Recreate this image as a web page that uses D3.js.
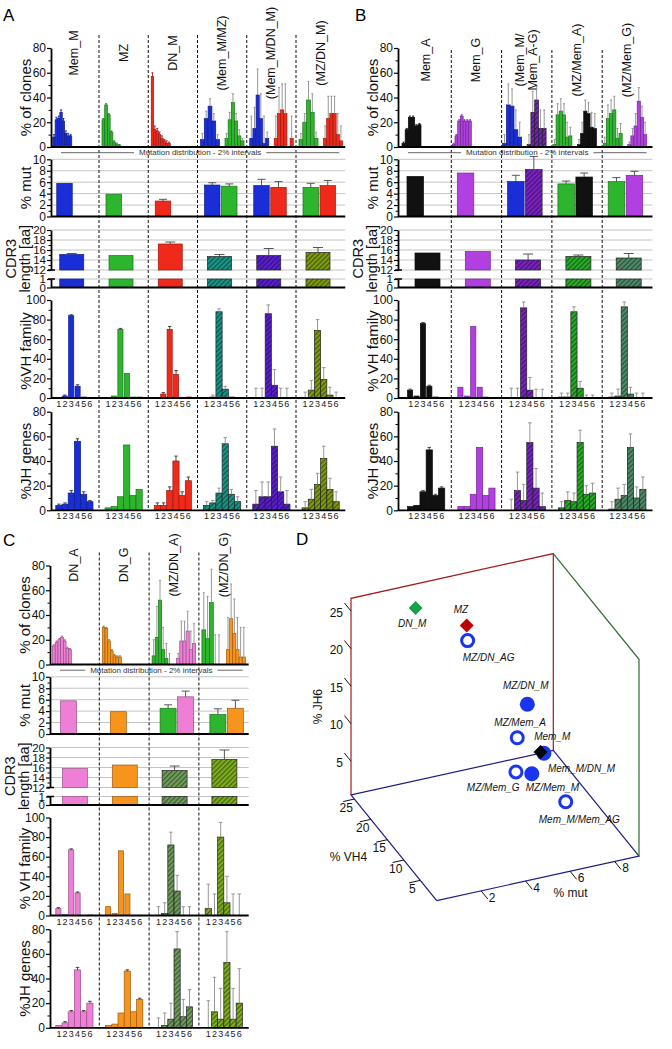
<!DOCTYPE html>
<html>
<head>
<meta charset="utf-8">
<script src="https://cdn.jsdelivr.net/npm/d3@7"></script>
<style>
body { margin: 0; background: #fff; }
svg { display: block; font-family: "Liberation Sans", Arial, sans-serif; }
</style>
</head>
<body>
<svg id="fig" width="672" height="1049"></svg>
<script>
// ---------- Panel A data ----------
var aGroups = ["Mem_M", "MZ", "DN_M", "(Mem_M/MZ)", "(Mem_M/DN_M)", "(MZ/DN_M)"];
var aPops = [["Mem_M"], ["MZ"], ["DN_M"], ["Mem_M", "MZ"], ["Mem_M", "DN_M"], ["MZ", "DN_M"]];
var aClones = [
    [[8, 22, 23, 28, 21, 11, 9, 9]],
    [[22, 34, 26, 12, 4, 2, 1]],
    [[57, 14, 13, 10, 7, 5, 3, 3]],
    [[6, 23, 33, 21, 6], [7, 22, 36, 21, 9, 5]],
    [[7, 15, 42, 23, 3, 7], [7, 27, 30, 27, 0, 7]],
    [[6, 20, 38, 28, 7], [7, 23, 27, 27, 10, 5]]
];
var aClonesErr = [
    [[10, 24, 25, 30, 23, 13, 11, 10]],
    [[23, 35, 27, 13, 5, 3, 2]],
    [[60, 17, 15, 12, 9, 6, 5, 4]],
    [[11, 29, 39, 27, 10], [11, 28, 43, 27, 14, 7]],
    [[25, 32, 63, 43, 25, 12], [25, 48, 51, 51, 0, 25]],
    [[11, 27, 53, 43, 12], [17, 41, 41, 41, 27, 17]]
];
var aMut = [[5.8], [3.9], [2.7], [5.5, 5.3], [5.4, 5.1], [5.1, 5.4]];
var aMutErr = [[5.9], [3.95], [3.0], [5.9, 5.7], [6.5, 6.1], [5.8, 6.3]];
var aCdr3 = [15.1, 14.9, 17.2, 14.7, 14.9, 15.5];
var aCdr3Err = [15.3, 15.0, 17.6, 15.1, 16.3, 16.5];
var aVH = [[0.5, 2, 84, 12, 1, 0], [0, 2, 70, 25, 1, 1], [0, 4, 70, 24, 0, 1],
    [0, 1, 88, 9, 1, 0], [0, 0, 86, 13, 0, 0], [0, 8, 69, 19, 3, 0]];
var aVHErr = [[0.5, 3, 85, 13.5, 1, 0], [0, 2.5, 71, 25.5, 1, 1], [0, 5.5, 73, 28, 0, 1.5],
    [0, 3, 91, 12, 1, 0], [10, 10, 95, 29, 10, 10], [6, 18, 80, 31, 11, 6]];
var aJH = [[4, 5, 14, 56, 13, 7], [2, 3, 11, 53, 12, 17], [4, 4, 16, 40, 12, 24],
    [4, 6, 14, 54, 13, 7], [5, 11, 11, 52, 15, 5], [2, 9, 21, 42, 17, 7]];
var aJHErr = [[5, 6, 16, 58, 15, 8], [2.5, 3.5, 11.5, 53.5, 12.5, 17.5], [6, 6, 19, 44, 15, 27],
    [7, 8, 18, 59, 17, 11], [16, 23, 23, 66, 27, 16], [7, 17, 30, 52, 26, 15]];

// ---------- Panel B data ----------
var bGroups = ["Mem_A", "Mem_G", "(Mem_M/\nMem_A-G)", "(MZ/Mem_A)", "(MZ/Mem_G)"];
var bPops = [["Mem_A"], ["Mem_G"], ["Mem_M", "Mem_A-G"], ["MZ", "Mem_A"], ["MZ", "Mem_G"]];
var bClones = [
    [[3, 14, 24, 24, 17, 18]],
    [[2, 9, 21, 25, 21, 21, 21]],
    [[3, 34, 33, 14, 8], [2, 28, 38, 15, 15]],
    [[2, 26, 29, 26, 8, 9], [2, 11, 29, 27, 16, 15]],
    [[3, 23, 27, 30, 7, 11], [2, 9, 17, 37, 24, 10]]
];
var bClonesErr = [
    [[4, 15, 25, 25, 18, 19]],
    [[3, 10, 22, 26, 22, 22, 22]],
    [[10, 51, 47, 30, 20], [10, 45, 49, 30, 30]],
    [[6, 35, 39, 35, 20, 16], [6, 20, 38, 36, 28, 27]],
    [[8, 34, 38, 41, 15, 19], [4, 15, 27, 48, 33, 20]]
];
var bMut = [[7.0], [7.6], [6.1, 8.2], [5.7, 6.9], [6.1, 7.2]];
var bMutErr = [[7.1], [7.7], [7.2, 10.5], [6.2, 7.6], [6.8, 7.9]];
var bCdr3 = [15.4, 15.7, 14.0, 14.7, 14.4];
var bCdr3Err = [15.5, 15.8, 15.2, 15.0, 15.3];
var bVH = [[8, 2, 76, 12, 1, 0.5], [11, 2, 73, 11, 1, 0.5], [0, 0, 92, 8, 0, 0],
    [1, 1, 88, 10, 0, 0], [1, 2, 93, 4, 0, 0]];
var bVHErr = [[9, 2.5, 77, 13, 1.5, 0.5], [11.5, 2.5, 73.5, 11.5, 1, 0.5], [10, 10, 98, 21, 9, 9],
    [5, 5, 93, 17, 3, 3], [5, 9, 98, 11, 5, 5]];
var bJH = [[3, 4, 15, 49, 12, 18], [3, 3, 13, 51, 12, 18], [0, 16, 8, 55, 18, 3],
    [2, 8, 7, 55, 13, 14], [1, 9, 12, 51, 10, 17]];
var bJHErr = [[3.5, 4.5, 16, 51, 13, 19], [3.5, 3.5, 13.5, 51.5, 12.5, 18.5], [9, 31, 21, 71, 34, 14],
    [7, 15, 14, 65, 20, 22], [7, 18, 21, 62, 19, 27]];

// ---------- Panel C data ----------
var cGroups = ["DN_A", "DN_G", "(MZ/DN_A)", "(MZ/DN_G)"];
var cPops = [["DN_A"], ["DN_G"], ["MZ", "DN_A"], ["MZ", "DN_G"]];
var cClones = [
    [[15, 18, 20, 22, 19, 13, 12]],
    [[30, 29, 19, 11, 7, 6, 6]],
    [[7, 22, 52, 12, 5, 0], [5, 19, 19, 27, 12, 17]],
    [[28, 21, 50, 0, 0], [12, 37, 25, 12, 6, 6]]
];
var cClonesErr = [
    [[16, 19, 21, 23, 20, 14, 13]],
    [[31, 30, 20, 12, 8, 7, 7]],
    [[20, 47, 68, 30, 17, 9], [9, 35, 35, 43, 27, 33]],
    [[58, 55, 77, 24, 24], [38, 65, 53, 38, 30, 30]]
];
var cMut = [[5.8], [3.9], [4.5, 6.5], [3.4, 4.5]];
var cMutErr = [[5.85], [3.95], [5.1, 7.5], [4.4, 5.9]];
var cCdr3 = [15.8, 16.5, 15.4, 17.6];
var cCdr3Err = [15.85, 16.6, 16.3, 19.5];
var cVH = [[7, 1, 67, 23, 0, 0.5], [9, 2, 66, 22, 0, 0], [0, 2, 72, 25, 0, 0], [7, 0, 80, 13, 0, 0]];
var cVHErr = [[8, 1.5, 68, 24, 0, 0.5], [9.5, 2.5, 66.5, 22.5, 0, 0], [9, 13, 85, 41, 9, 9], [32, 22, 95, 40, 22, 22]];
var cJH = [[2, 4, 13, 47, 13, 20], [2, 3, 12, 46, 13, 23], [0, 2, 7, 64, 9, 17], [0, 13, 7, 53, 7, 20]];
var cJHErr = [[2.5, 5, 14, 49, 14, 21.5], [2.5, 3.5, 12.5, 47, 13.5, 24], [8, 12, 20, 78, 23, 31], [22, 41, 32, 78, 32, 48]];

// ---------- Panel D data (3D scatter) ----------
var dNames = ["MZ/DN_AG", "MZ/Mem_A", "MZ/Mem_G", "Mem_M/Mem_AG", "MZ/DN_M", "Mem_M/DN_M", "MZ/Mem_M", "DN_M", "MZ", "Mem_M"];
var dKind = ["switched", "switched", "switched", "switched", "igm", "igm", "igm", "pop", "pop", "pop"];
var dMut = [4.0, 5.7, 6.1, 6.1, 5.1, 5.4, 5.3, 2.7, 3.9, 5.8];
var dVH4 = [17.6, 14.0, 17.1, 2.0, 6.9, 3.9, 6.9, 24.6, 17.2, 7.6];
var dJH6 = [23.0, 10.9, 4.4, 8.6, 19.6, 14.5, 10.2, 24.4, 25.3, 12.4];
var dMutTicks = [2, 4, 6, 8];
var dVH4Ticks = [5, 10, 15, 20, 25];
var dJH6Ticks = [5, 10, 15, 20, 25];

// ---------- styles ----------
var popColor = {
    "Mem_M": "#1a2ed8", "MZ": "#2db52d", "DN_M": "#f02a1a", "Mem_A": "#111111",
    "Mem_G": "#b23fe0", "DN_A": "#ef7fd6", "DN_G": "#f7941d"
};
var hatchColor = {
    "(Mem_M/MZ)": "#1a9688", "(Mem_M/DN_M)": "#5a1fd0", "(MZ/DN_M)": "#7e9c10",
    "Mem_A-G": "#7a22c4", "(Mem_M/\nMem_A-G)": "#7a22c4", "(MZ/Mem_A)": "#27ad27",
    "(MZ/Mem_G)": "#4e8b68", "(MZ/DN_A)": "#6f9d5a", "(MZ/DN_G)": "#7cae1f"
};
var dColor = { "DN_M": "#18a04c", "MZ": "#c00000", "Mem_M": "#000000" };

var svg = d3.select("#fig");
var defs = svg.append("defs");

function safe(k) { return k.replace(/[^A-Za-z0-9]/g, "_"); }
function darker(c, k) { return d3.color(c).darker(k).formatHex(); }

Object.keys(hatchColor).forEach(function (k) {
    var c = hatchColor[k];
    var p = defs.append("pattern").attr("id", "h-" + safe(k))
        .attr("patternUnits", "userSpaceOnUse").attr("width", 3.4).attr("height", 3.4)
        .attr("patternTransform", "rotate(45)");
    p.append("rect").attr("width", 3.4).attr("height", 3.4).attr("fill", c);
    p.append("line").attr("x1", 0.6).attr("y1", 0).attr("x2", 0.6).attr("y2", 3.4)
        .attr("stroke", darker(c, 1.8)).attr("stroke-width", 1.1);
});

function fillOf(key) {
    return hatchColor[key] ? "url(#h-" + safe(key) + ")" : popColor[key];
}
function strokeOf(key) {
    return hatchColor[key] ? "#222" : darker(popColor[key], 1.3);
}

function errBar(g, x, yTop, yErr, cap, col) {
    if (yTop - yErr < 0.8) return;
    g.append("line").attr("x1", x).attr("x2", x).attr("y1", yTop).attr("y2", yErr)
        .attr("stroke", col).attr("stroke-width", 0.9);
    g.append("line").attr("x1", x - cap / 2).attr("x2", x + cap / 2).attr("y1", yErr).attr("y2", yErr)
        .attr("stroke", col).attr("stroke-width", 0.9);
}

function bar(g, x, y, w, h, key) {
    if (h <= 0) return;
    g.append("rect").attr("x", x).attr("y", y).attr("width", w).attr("height", h)
        .attr("fill", fillOf(key)).attr("stroke", strokeOf(key)).attr("stroke-width", 0.7);
}

//left axis with major + minor ticks
function yAxis(g, scale, x, major, minor, fs) {
    var ax = g.append("g").attr("transform", "translate(" + x + ",0)")
        .call(d3.axisLeft(scale).tickValues(major).tickFormat(d3.format("d"))
            .tickSize(4).tickSizeOuter(0).tickPadding(1));
    ax.attr("font-family", null).attr("font-size", fs || 12);
    ax.select(".domain").attr("stroke-width", 1.8);
    ax.selectAll(".tick line").attr("stroke-width", 1.2);
    ax.selectAll(".tick text").attr("fill", "#111");
    if (minor) {
        var mi = g.append("g").attr("transform", "translate(" + x + ",0)")
            .call(d3.axisLeft(scale).tickValues(minor).tickSize(2.5).tickSizeOuter(0).tickFormat(""));
        mi.select(".domain").remove();
        mi.selectAll(".tick line").attr("stroke-width", 1);
    }
}

function vTitle(g, x, y, lines, size, gap) {
    var t = g.append("text").attr("transform", "translate(" + x + "," + y + ") rotate(-90)")
        .attr("text-anchor", "middle").attr("font-size", size).attr("fill", "#111");
    lines.forEach(function (s, i) {
        t.append("tspan").attr("x", 0).attr("y", (i - (lines.length - 1) / 2) * (gap || 15))
            .attr("dominant-baseline", "central").text(s);
    });
}

function drawPanel(P) {
    var g = svg.append("g");
    var n = P.groups.length;
    var dy = P.dy;
    var gx = d3.scaleLinear().domain([0, n]).range([P.x0, P.x1]);
    var yClone = d3.scaleLinear().domain([0, 80]).range([147 + dy, 48 + dy]);
    var yMut = d3.scaleLinear().domain([0, 10]).range([216.5 + dy, 159.3 + dy]);
    var yCdrHi = d3.scaleLinear().domain([12, 20]).range([270 + dy, 230 + dy]);
    var yCdrLo = d3.scaleLinear().domain([0, 1]).range([287.5 + dy, 279 + dy]);
    var yVH = d3.scaleLinear().domain([0, 100]).range([398 + dy, 300 + dy]);
    var yJH = d3.scaleLinear().domain([0, 80]).range([510.3 + dy, 411.7 + dy]);

    function groupKey(gi) {
        return P.pops[gi].length === 1 ? P.pops[gi][0] : P.groups[gi];
    }

    /* GRIDLINES */
    [2, 4, 6, 8, 10].forEach(function (v) {
        g.append("line").attr("x1", P.axisX).attr("x2", P.x1).attr("y1", yMut(v)).attr("y2", yMut(v))
            .attr("stroke", "#c4c4c4").attr("stroke-width", 1);
    });
    [12, 14, 16, 18, 20].forEach(function (v) {
        g.append("line").attr("x1", P.axisX).attr("x2", P.x1).attr("y1", yCdrHi(v)).attr("y2", yCdrHi(v))
            .attr("stroke", "#c4c4c4").attr("stroke-width", 1);
    });
    g.append("line").attr("x1", P.axisX).attr("x2", P.x1).attr("y1", yCdrLo(1)).attr("y2", yCdrLo(1))
        .attr("stroke", "#c4c4c4").attr("stroke-width", 1);

    /* DIVIDERS */
    for (var i = 1; i < n; i++) {
        g.append("line").attr("x1", gx(i)).attr("x2", gx(i))
            .attr("y1", P.dashTop + dy).attr("y2", 511 + dy)
            .attr("stroke", "#111").attr("stroke-width", 1).attr("stroke-dasharray", "3,2");
    }

    /* GROUP LABELS */
    P.groups.forEach(function (name, gi) {
        var lines = name.split("\n");
        var t = g.append("text")
            .attr("transform", "translate(" + gx(gi + 0.5) + "," + (P.labelY + dy) + ") rotate(-90)")
            .attr("text-anchor", "middle").attr("font-size", 12.5).attr("fill", "#111");
        lines.forEach(function (s, li) {
            t.append("tspan").attr("x", 0).attr("y", (li - (lines.length - 1) / 2) * 13)
                .attr("dominant-baseline", "central").text(s);
        });
    });

    /* CLONE HISTOGRAMS */
    P.clones.forEach(function (series, gi) {
        series.forEach(function (vals, si) {
            var left = gx(gi) + P.histOff + si * 24.5;
            var bx = d3.scaleBand().domain(d3.range(vals.length)).range([left, left + 19]);
            var key = P.pops[gi][si];
            var errs = P.clonesErr[gi][si];
            var ecol = series.length > 1 ? "#8c8c8c" : darker(popColor[key] || "#444", 1);
            vals.forEach(function (v, k) {
                bar(g, bx(k), yClone(v), bx.bandwidth(), yClone(0) - yClone(v), key);
                errBar(g, bx(k) + bx.bandwidth() / 2, yClone(v), yClone(errs[k]), 2, ecol);
            });
        });
    });

    /* MUTATION DISTRIBUTION CAPTION */
    var ly = 152.7 + dy;
    var lx0 = P.axisX + 10, lx1 = P.x1 - 6;
    var cap = g.append("text").attr("x", (lx0 + lx1) / 2).attr("y", ly)
        .attr("text-anchor", "middle").attr("dominant-baseline", "central")
        .attr("font-size", 8).attr("fill", "#333").text("Mutation distribution - 2% intervals");
    var tw = cap.node().getComputedTextLength();
    g.append("line").attr("x1", lx0).attr("x2", (lx0 + lx1) / 2 - tw / 2 - 5).attr("y1", ly).attr("y2", ly)
        .attr("stroke", "#555").attr("stroke-width", 0.9);
    g.append("line").attr("x1", (lx0 + lx1) / 2 + tw / 2 + 5).attr("x2", lx1).attr("y1", ly).attr("y2", ly)
        .attr("stroke", "#555").attr("stroke-width", 0.9);

    /* % MUT */
    P.mut.forEach(function (vals, gi) {
        vals.forEach(function (v, si) {
            var x = gx(gi) + P.mutOff + si * (P.mutW + 1.5);
            var key = P.pops[gi][si];
            bar(g, x, yMut(v), P.mutW, yMut(0) - yMut(v), key);
            errBar(g, x + P.mutW / 2, yMut(v), yMut(P.mutErr[gi][si]), 8, "#444");
        });
    });

    /* CDR3 (broken axis) */
    P.cdr3.forEach(function (v, gi) {
        var x = gx(gi) + P.cdrOff;
        var key = groupKey(gi);
        bar(g, x, yCdrHi(v), P.cdrW, yCdrHi(12) - yCdrHi(v), key);
        bar(g, x, yCdrLo(1), P.cdrW, yCdrLo(0) - yCdrLo(1), key);
        errBar(g, x + P.cdrW / 2, yCdrHi(v), yCdrHi(P.cdr3Err[gi]), 10, "#444");
    });

    /* VH FAMILY + JH GENES */
    function famBars(data, errs, yS, single) {
        data.forEach(function (vals, gi) {
            var c = gx(gi + 0.5);
            var isSingle = P.pops[gi].length === 1;
            var bx = d3.scaleBand().domain(d3.range(vals.length)).range([c - 18.6, c + 18.6])
                .paddingInner(single && isSingle ? 0.2 : 0);
            var key = groupKey(gi);
            var ecol = isSingle ? "#333" : "#8c8c8c";
            vals.forEach(function (v, k) {
                bar(g, bx(k), yS(v), bx.bandwidth(), yS(0) - yS(v), key);
                errBar(g, bx(k) + bx.bandwidth() / 2, yS(v), yS(errs[gi][k]), 3.5, ecol);
            });
            var lx = d3.scaleBand().domain(d3.range(vals.length)).range([c - 18.6, c + 18.6]);
            vals.forEach(function (v, k) {
                g.append("text").attr("x", lx(k) + lx.bandwidth() / 2).attr("y", yS(0) + 6)
                    .attr("text-anchor", "middle").attr("dominant-baseline", "central")
                    .attr("font-size", 9).attr("fill", "#222").text(k + 1);
            });
        });
    }
    famBars(P.vh, P.vhErr, yVH, true);
    famBars(P.jh, P.jhErr, yJH, false);

    /* BASELINES */
    [yClone(0), yMut(0), yCdrLo(0), yVH(0), yJH(0)].forEach(function (y) {
        g.append("line").attr("x1", P.axisX).attr("x2", P.x1).attr("y1", y).attr("y2", y)
            .attr("stroke", "#000").attr("stroke-width", 1.8);
    });

    /* AXES */
    yAxis(g, yClone, P.axisX, [0, 20, 40, 60, 80], [10, 30, 50, 70]);
    yAxis(g, yMut, P.axisX, [0, 2, 4, 6, 8, 10], [1, 3, 5, 7, 9]);
    yAxis(g, yCdrHi, P.axisX, [12, 14, 16, 18, 20], [13, 15, 17, 19], 11.5);
    yAxis(g, yCdrLo, P.axisX, [0, 1], null, 11.5);
    yAxis(g, yVH, P.axisX, [0, 20, 40, 60, 80, 100], [10, 30, 50, 70, 90]);
    yAxis(g, yJH, P.axisX, [0, 20, 40, 60, 80], [10, 30, 50, 70]);
    //axis break marks
    [yCdrHi(12), yCdrLo(1)].forEach(function (y) {
        g.append("line").attr("x1", P.axisX - 3).attr("x2", P.axisX + 4).attr("y1", y).attr("y2", y)
            .attr("stroke", "#000").attr("stroke-width", 1.5);
    });

    /* TITLES */
    var tx = P.axisX - 26;
    vTitle(g, tx, (yClone(0) + yClone(80)) / 2, ["% of clones"], 15);
    vTitle(g, tx, (yMut(0) + yMut(10)) / 2, ["% mut"], 15);
    vTitle(g, P.axisX - 33, (yCdrLo(0) + yCdrHi(20)) / 2, ["CDR3", "length [aa]"], 14.5, 14);
    vTitle(g, tx, (yVH(0) + yVH(100)) / 2 + 2, [P.vhTitle], 15);
    vTitle(g, tx, (yJH(0) + yJH(80)) / 2, ["%JH genes"], 15);

    svg.append("text").attr("x", P.letterX).attr("y", P.letterY).attr("font-size", 17)
        .attr("fill", "#000").text(P.letter);
}

drawPanel({
    letter: "A", letterX: 3, letterY: 21,
    groups: aGroups, pops: aPops, clones: aClones, clonesErr: aClonesErr,
    mut: aMut, mutErr: aMutErr, cdr3: aCdr3, cdr3Err: aCdr3Err,
    vh: aVH, vhErr: aVHErr, jh: aJH, jhErr: aJHErr, vhTitle: "%VH family",
    x0: 49.75, x1: 345.25, axisX: 51, dy: 0, labelY: 53, dashTop: 35,
    histOff: 3, mutOff: 7, mutW: 15.5, cdrOff: 10, cdrW: 24
});
drawPanel({
    letter: "B", letterX: 355, letterY: 21,
    groups: bGroups, pops: bPops, clones: bClones, clonesErr: bClonesErr,
    mut: bMut, mutErr: bMutErr, cdr3: bCdr3, cdr3Err: bCdr3Err,
    vh: bVH, vhErr: bVHErr, jh: bJH, jhErr: bJHErr, vhTitle: "% VH family",
    x0: 401, x1: 652.5, axisX: 398, dy: 0, labelY: 60, dashTop: 50,
    histOff: 1, mutOff: 6, mutW: 16.5, cdrOff: 14, cdrW: 25
});
drawPanel({
    letter: "C", letterX: 3, letterY: 546,
    groups: cGroups, pops: cPops, clones: cClones, clonesErr: cClonesErr,
    mut: cMut, mutErr: cMutErr, cdr3: cCdr3, cdr3Err: cCdr3Err,
    vh: cVH, vhErr: cVHErr, jh: cJH, jhErr: cJHErr, vhTitle: "% VH family",
    x0: 49.5, x1: 248.7, axisX: 50, dy: 517.5, labelY: 47.5, dashTop: 35,
    histOff: 3, mutOff: 11, mutW: 16, cdrOff: 13, cdrW: 25
});

// ---------- Panel D: 3D scatter drawn with linear scales on screen vectors ----------
(function () {
    var g = svg.append("g");
    var origin = [436.7, 900.7];
    var mutMax = 9.1, vhMax = 26, jhLo = 0.5, jhHi = 26.7;
    var mutS = d3.scaleLinear().domain([0, mutMax]).range([[0, 0], [202.3, -44.7]]);
    var vhS = d3.scaleLinear().domain([0, vhMax]).range([[0, 0], [-85.7, -105.7]]);
    var jhS = d3.scaleLinear().domain([jhLo, jhHi]).range([[0, 0], [0, -196.7]]);
    function proj(m, v, j) {
        var a = mutS(m), b = vhS(v), c = jhS(j);
        return [origin[0] + a[0] + b[0] + c[0], origin[1] + a[1] + b[1] + c[1]];
    }
    var line = d3.line();
    function path(pts, col) {
        g.append("path").attr("d", line(pts)).attr("fill", "none")
            .attr("stroke", col).attr("stroke-width", 1.2);
    }
    path([proj(0, 0, jhLo), proj(mutMax, 0, jhLo), proj(mutMax, vhMax, jhLo), proj(0, vhMax, jhLo), proj(0, 0, jhLo)], "#1c1c86");
    path([proj(0, vhMax, jhLo), proj(0, vhMax, jhHi), proj(mutMax, vhMax, jhHi), proj(mutMax, vhMax, jhLo)], "#a31a1a");
    path([proj(mutMax, vhMax, jhHi), proj(mutMax, 0, jhHi), proj(mutMax, 0, jhLo)], "#2d6e2d");

    function tick(p, q) {
        g.append("line").attr("x1", p[0]).attr("y1", p[1]).attr("x2", q[0]).attr("y2", q[1])
            .attr("stroke", "#111").attr("stroke-width", 1);
    }
    function lab(x, y, s, anchor) {
        g.append("text").attr("x", x).attr("y", y).attr("text-anchor", anchor)
            .attr("dominant-baseline", "central").attr("font-size", 12).attr("fill", "#111").text(s);
    }
    dJH6Ticks.forEach(function (j) {
        var p = proj(0, vhMax, j);
        tick(p, proj(0, vhMax + 2, j));
        lab(p[0] - 8, p[1] + 1.5, j, "end");
    });
    dVH4Ticks.forEach(function (v) {
        var p = proj(0, v, jhLo);
        tick(p, proj(-0.5, v, jhLo));
        lab(p[0] - 8, p[1] + 8.5, v, "middle");
    });
    dMutTicks.forEach(function (m) {
        var p = proj(m, 0, jhLo);
        tick(p, proj(m, -2, jhLo));
        lab(p[0] + 11, p[1] + 7, m, "middle");
    });
    g.append("text").attr("transform", "translate(318,706.7) rotate(-90)")
        .attr("text-anchor", "middle").attr("dominant-baseline", "central")
        .attr("font-size", 12).attr("fill", "#111").text("% JH6");
    lab(348.5, 856.7, "% VH4", "middle");
    lab(570.5, 893.3, "% mut", "middle");

    //label shifts relative to each marker, same order as dNames
    var labelShift = [[21, 17], [2.7, -15], [-22.7, 16], [13.6, 17.3], [-1.6, -18.3],
        [37.7, 15], [20.6, 13.7], [-3.4, 16], [-5.7, -15.7], [11.6, -15]];

    dNames.forEach(function (name, i) {
        var p = proj(dMut[i], dVH4[i], dJH6[i]);
        if (dKind[i] === "switched") {
            g.append("circle").attr("cx", p[0]).attr("cy", p[1]).attr("r", 6)
                .attr("fill", "#fff").attr("stroke", "#1a35f0").attr("stroke-width", 3);
        } else if (dKind[i] === "igm") {
            g.append("circle").attr("cx", p[0]).attr("cy", p[1]).attr("r", 7.5).attr("fill", "#1a35f0");
        } else {
            g.append("path").attr("transform", "translate(" + p[0] + "," + p[1] + ")")
                .attr("d", "M0,-7L7,0L0,7L-7,0Z").attr("fill", dColor[name]);
        }
        g.append("text").attr("x", p[0] + labelShift[i][0]).attr("y", p[1] + labelShift[i][1])
            .attr("text-anchor", "middle").attr("dominant-baseline", "central")
            .attr("font-size", 10).attr("font-style", "italic").attr("fill", "#111").text(name);
    });

    svg.append("text").attr("x", 296).attr("y", 545).attr("font-size", 17).attr("fill", "#000").text("D");
})();
</script>
</body>
</html>
